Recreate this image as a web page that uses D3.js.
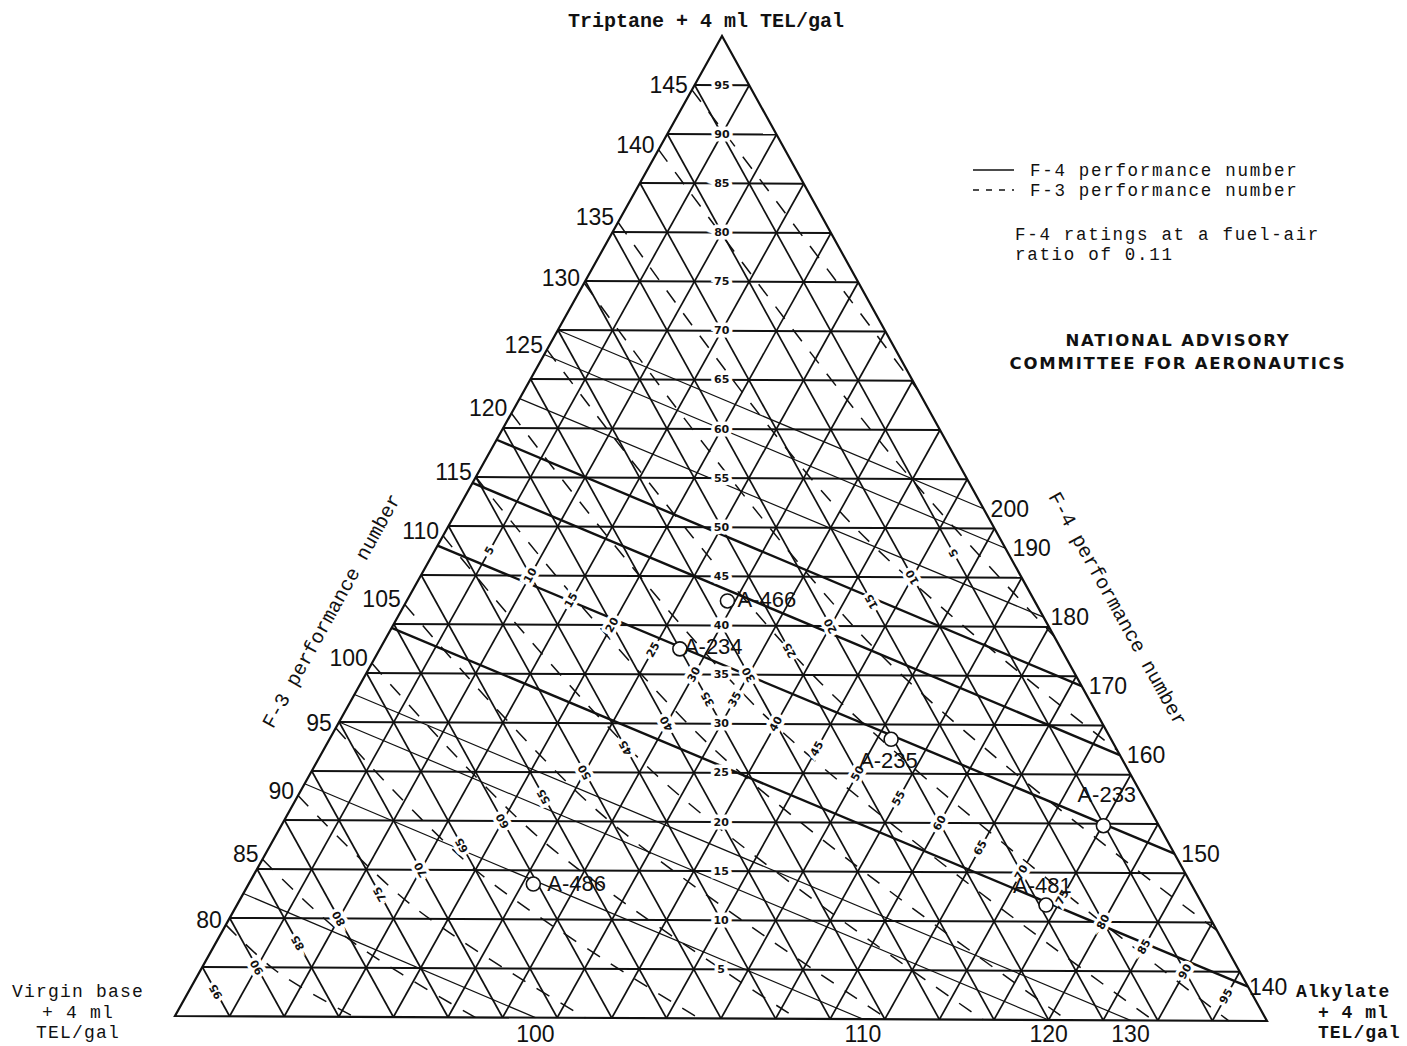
<!DOCTYPE html>
<html>
<head>
<meta charset="utf-8">
<script src="https://cdn.jsdelivr.net/npm/d3@7"></script>
<style>
  body { margin: 0; background: #fff; }
  text { fill: #111; }
</style>
</head>
<body>
<svg id="chart"></svg>
<script>
// Triangular chart: triptane / alkylate / virgin base blends, F-3 and F-4 ratings
const w = 1407;
const h = 1046;
const svg = d3.select("#chart").attr("width", w).attr("height", h);

// composition grid, percent
const gridSteps = d3.range(5, 100, 5);

// F-3 curves (dashed): value, triptane % where it leaves the left side,
// a point on the way and the end point, as [triptane %, alkylate %]
const f3Values = [80, 85, 90, 95, 100, 105, 110, 115, 120, 125, 130, 135, 140, 145];
const f3LeftT = [9.3, 16, 22.5, 29.4, 36, 42, 49, 55, 61.5, 68, 74.8, 81, 88.4, 94.5];
const f3Mid = [[4.6, 7], [8, 11.8], [11.3, 16.1], [14.7, 20.5], [18.1, 24.5], [21.1, 28.1],
  [24.6, 31.9], [27.7, 35.2], [30.9, 38.5], [34.2, 42], [37.7, 45.2], [50.7, 36.3],
  [57.6, 36.6], [85.4, 10.8]];
const f3End = [[0, 16.4], [0, 27.5], [0, 37.6], [0, 48], [0, 57], [0, 65.3], [0, 74],
  [0, 81.7], [0, 89.6], [0, 96.5], [9.2, 90.8], [27.5, 72.5], [39, 61], [64, 36]];

// F-4 curves (solid)
const f4Values = [100, 110, 120, 130, 140, 150, 160, 170, 180, 190, 200];
const f4LeftT = [12.5, 23.7, 30, 32.8, 39.6, 48, 54.4, 58.8, 63, 67.5, 70];
const f4End = [[0, 33], [0, 63], [0, 80], [0, 87.5], [3.5, 96.5], [17, 83], [27, 73],
  [34, 66], [41, 59], [48, 52], [52, 48]];

// blends that were rated
const sampleNames = ["A-466", "A-234", "A-235", "A-233", "A-481", "A-486"];
const sampleT = [42.5, 37.6, 28.5, 19.8, 11.7, 13.6];
const sampleA = [29.3, 27.4, 51.3, 75.1, 73.9, 26];

// scales for the three corners (virgin base bottom left, alkylate bottom right, triptane top)
const x0 = 175, y0 = 1016;
const xA = d3.scaleLinear().domain([0, 100]).range([0, 1092]);
const yA = d3.scaleLinear().domain([0, 100]).range([0, 5]);
const xT = d3.scaleLinear().domain([0, 100]).range([0, 547]);
const yT = d3.scaleLinear().domain([0, 100]).range([0, -980]);
const P = (t, a) => [x0 + xA(a) + xT(t), y0 + yA(a) + yT(t)];

const line = d3.line();
const curve = d3.line().curve(d3.curveCatmullRom);
const g = svg.append("g");

// outline
g.append("path")
  .attr("d", line([P(0, 0), P(0, 100), P(100, 0)]) + "Z")
  .attr("fill", "none").attr("stroke", "#111").attr("stroke-width", 2.2);

// grid lines parallel to each side
gridSteps.forEach((k) => {
  const segs = [
    [P(k, 0), P(k, 100 - k)],          // triptane constant
    [P(0, k), P(100 - k, k)],          // alkylate constant
    [P(0, 100 - k), P(100 - k, 0)]     // virgin base constant
  ];
  segs.forEach((s, i) => {
    g.append("path").attr("d", line(s))
      .attr("stroke", "#111")
      .attr("stroke-width", i === 0 ? 2 : 1.7)
      .attr("fill", "none");
  });
});

// F-4 curves
const boldF4 = [140, 150, 160, 170];
f4Values.forEach((v, i) => {
  g.append("path")
    .attr("d", line([P(f4LeftT[i], 0), P(f4End[i][0], f4End[i][1])]))
    .attr("fill", "none").attr("stroke", "#111")
    .attr("stroke-width", boldF4.includes(v) ? 2.4 : 1.2);
});

// F-3 curves
f3Values.forEach((v, i) => {
  const pts = [P(f3LeftT[i], 0), P(f3Mid[i][0], f3Mid[i][1]), P(f3End[i][0], f3End[i][1])];
  g.append("path")
    .attr("d", curve(pts))
    .attr("fill", "none").attr("stroke", "#111")
    .attr("stroke-width", 1.5)
    .attr("stroke-dasharray", "15,13");
});

// percent labels on the three medians
const small = (sel) => sel.attr("font-family", "DejaVu Sans").attr("font-size", 11)
  .attr("font-weight", "bold").attr("text-anchor", "middle")
  .attr("dominant-baseline", "central")
  .attr("stroke", "#fff").attr("stroke-width", 7).attr("paint-order", "stroke");

gridSteps.forEach((k) => {
  const c = P(k, (100 - k) / 2);
  small(g.append("text")).attr("x", c[0]).attr("y", c[1]).text(k);
  const al = P((100 - k) / 2, k);
  small(g.append("text")).attr("transform", `translate(${al[0]},${al[1]}) rotate(-61)`).text(k);
  const vb = P((100 - k) / 2, (100 - k) / 2);
  small(g.append("text")).attr("transform", `translate(${vb[0]},${vb[1]}) rotate(-119)`).text(k);
});

// scale numbers on the sides
const big = (sel) => sel.attr("font-family", "Liberation Sans").attr("font-size", 23);
f3Values.forEach((v, i) => {
  const p = P(f3LeftT[i], 0);
  big(g.append("text")).attr("x", p[0] - 4).attr("y", p[1] + 3)
    .attr("text-anchor", "end").text(v);
});
f4Values.forEach((v, i) => {
  const e = f4End[i];
  const p = P(e[0], e[1]);
  if (e[0] > 0) {
    big(g.append("text")).attr("x", p[0] + (e[0] < 10 ? 1 : 7)).attr("y", p[1] + 8).text(v);
  } else {
    big(g.append("text")).attr("x", p[0]).attr("y", 1042)
      .attr("text-anchor", "middle").text(v);
  }
});

// rated blends
const labelPos = { "A-466": [10, 6, "start"], "A-234": [4, 5, "start"], "A-235": [-32, 29, "start"],
  "A-233": [-26, -24, "start"], "A-481": [-33, -12, "start"], "A-486": [14, 7, "start"] };
sampleNames.forEach((n, i) => {
  const p = P(sampleT[i], sampleA[i]);
  g.append("circle").attr("cx", p[0]).attr("cy", p[1]).attr("r", 7)
    .attr("fill", "#fff").attr("stroke", "#111").attr("stroke-width", 1.6);
  const o = labelPos[n];
  g.append("text").attr("x", p[0] + o[0]).attr("y", p[1] + o[1])
    .attr("font-family", "Liberation Sans").attr("font-size", 22)
    .attr("text-anchor", o[2]).text(n);
});

// titles
const mono = (sel, size, bold) => sel.attr("font-family", "Liberation Mono")
  .attr("font-size", size).attr("font-weight", bold ? "bold" : "normal");
mono(svg.append("text"), 20, true).attr("x", 706).attr("y", 27)
  .attr("text-anchor", "middle").text("Triptane + 4 ml TEL/gal");
[["Virgin base", 997], ["+ 4 ml", 1017.5], ["TEL/gal", 1038]].forEach(([s, y]) => {
  mono(svg.append("text"), 18, false).attr("letter-spacing", 1.2).attr("x", 78).attr("y", y)
    .attr("text-anchor", "middle").text(s);
});
[["Alkylate", 1296, 997], ["+ 4 ml", 1318, 1017.5], ["TEL/gal", 1318, 1038]].forEach(([s, x, y]) => {
  mono(svg.append("text"), 18, true).attr("letter-spacing", 1).attr("x", x).attr("y", y).text(s);
});
mono(svg.append("text"), 20, false)
  .attr("transform", "translate(337,614) rotate(-61)")
  .attr("text-anchor", "middle").text("F-3 performance number");
mono(svg.append("text"), 20, false)
  .attr("transform", "translate(1112,612) rotate(61)")
  .attr("text-anchor", "middle").text("F-4 performance number");

// legend
svg.append("line").attr("x1", 973).attr("x2", 1014).attr("y1", 170).attr("y2", 170)
  .attr("stroke", "#111").attr("stroke-width", 1.3);
svg.append("line").attr("x1", 973).attr("x2", 1014).attr("y1", 190).attr("y2", 190)
  .attr("stroke", "#111").attr("stroke-width", 1.3).attr("stroke-dasharray", "6,7");
const legendText = (s, x, y) => mono(svg.append("text"), 17.5, false)
  .attr("letter-spacing", 1.7).attr("x", x).attr("y", y).text(s);
legendText("F-4 performance number", 1030, 176);
legendText("F-3 performance number", 1030, 196);
legendText("F-4 ratings at a fuel-air", 1015, 240);
legendText("ratio of 0.11", 1015, 260);
[["NATIONAL ADVISORY", 346], ["COMMITTEE FOR AERONAUTICS", 369]].forEach(([s, y]) => {
  svg.append("text").attr("x", 1178).attr("y", y).attr("text-anchor", "middle")
    .attr("font-family", "DejaVu Sans").attr("font-weight", "bold").attr("font-size", 16.5)
    .attr("letter-spacing", 1.8).text(s);
});
</script>
</body>
</html>
